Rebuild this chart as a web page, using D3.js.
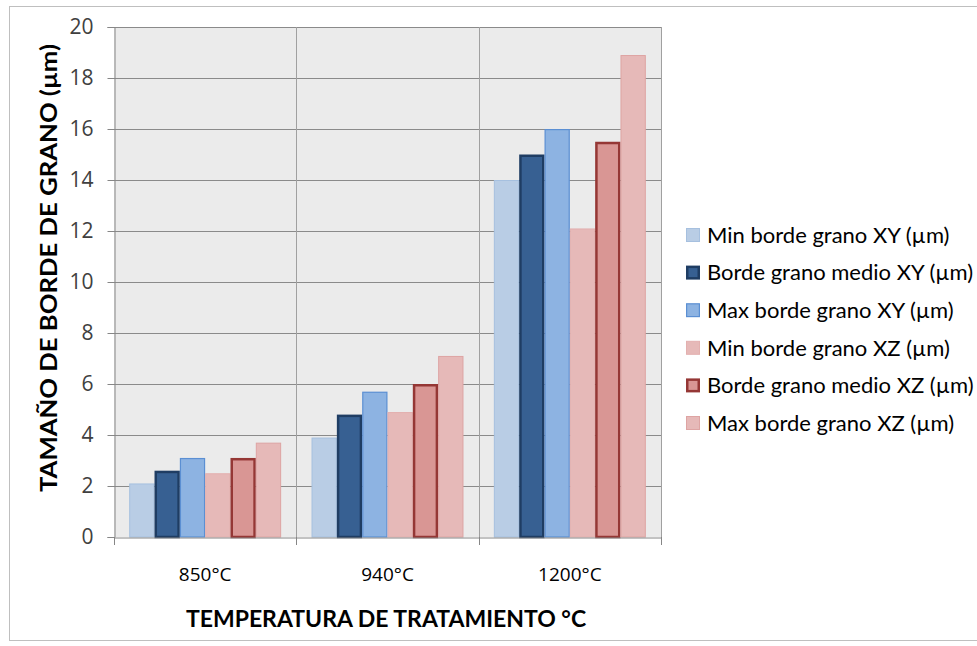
<!DOCTYPE html>
<html>
<head>
<meta charset="utf-8">
<script src="https://cdn.jsdelivr.net/npm/d3@7"></script>
<style>
  body { margin: 0; background: #fff; }
  svg { display: block; font-family: Lato, "Open Sans", sans-serif; }
</style>
</head>
<body>
<svg width="977" height="646"></svg>
<script>
// data *************************************************************
var categories = ['850°C', '940°C', '1200°C'];
var seriesNames = [
    'Min borde grano XY (µm)',
    'Borde grano medio XY (µm)',
    'Max borde grano XY (µm)',
    'Min borde grano XZ (µm)',
    'Borde grano medio XZ (µm)',
    'Max borde grano XZ (µm)'
];
var minXY = [2.1, 3.9, 14.0];
var medioXY = [2.6, 4.8, 15.0];
var maxXY = [3.1, 5.7, 16.0];
var minXZ = [2.5, 4.9, 12.1];
var medioXZ = [3.1, 6.0, 15.5];
var maxXZ = [3.7, 7.1, 18.9];
var yTicks = [0, 2, 4, 6, 8, 10, 12, 14, 16, 18, 20];

var seriesValues = [minXY, medioXY, maxXY, minXZ, medioXZ, maxXZ];
var fills = ['#b9cde5', '#376092', '#8db3e2', '#e6b9b8', '#d99694', '#e6b9b8'];
var strokes = ['#a6c0df', '#1f3d63', '#5b8fd3', '#e3b0af', '#953735', '#dea4a3'];
var strokeW = [1, 2.5, 1.2, 1, 2.5, 1];

var svg = d3.select('svg');
var margin = { left: 114, right: 661, top: 27, bottom: 537 };

// chart frame
svg.append('rect')
    .attr('x', 9.5).attr('y', 6.5)
    .attr('width', 977).attr('height', 634)
    .attr('fill', '#fff').attr('stroke', '#bfbfbf');

var x = d3.scaleBand()
    .domain(categories)
    .range([margin.left, margin.right]);

var xInner = d3.scaleBand()
    .domain(d3.range(seriesNames.length))
    .range([0, x.bandwidth()])
    .paddingOuter(0.6);

var y = d3.scaleLinear()
    .domain([0, 20])
    .range([margin.bottom, margin.top]);

// plot background
svg.append('rect')
    .attr('x', margin.left).attr('y', margin.top)
    .attr('width', margin.right - margin.left)
    .attr('height', margin.bottom - margin.top)
    .attr('fill', '#ebebeb');

// gridlines
svg.append('g')
    .selectAll('line')
    .data(yTicks.slice(1))
    .enter().append('line')
    .attr('x1', margin.left).attr('x2', margin.right)
    .attr('y1', d => Math.round(y(d)) + 0.5).attr('y2', d => Math.round(y(d)) + 0.5)
    .attr('stroke', '#8a8a8a').attr('stroke-width', 1);

svg.append('g')
    .selectAll('line')
    .data(categories)
    .enter().append('line')
    .attr('x1', d => Math.round(x(d) + x.bandwidth()) + 0.5)
    .attr('x2', d => Math.round(x(d) + x.bandwidth()) + 0.5)
    .attr('y1', margin.top).attr('y2', margin.bottom)
    .attr('stroke', '#a0a0a0').attr('stroke-width', 1);

// bars
var rows = [];
categories.forEach((c, ci) => {
    seriesValues.forEach((vals, si) => rows.push({ c, si, v: vals[ci] }));
});

svg.append('g')
    .selectAll('rect')
    .data(rows)
    .enter().append('rect')
    .attr('x', d => x(d.c) + xInner(d.si) + strokeW[d.si] / 2)
    .attr('width', d => xInner.bandwidth() - strokeW[d.si])
    .attr('y', d => y(d.v) + strokeW[d.si] / 2)
    .attr('height', d => y(0) - y(d.v) - strokeW[d.si] / 2)
    .attr('fill', d => fills[d.si])
    .attr('stroke', d => strokes[d.si])
    .attr('stroke-width', d => strokeW[d.si]);

// y axis
var yAxis = svg.append('g')
    .attr('transform', `translate(${margin.left + 0.5},0)`)
    .call(d3.axisLeft(y).tickValues(yTicks).tickSize(7).tickPadding(14));
yAxis.select('.domain').attr('stroke', '#868686');
yAxis.selectAll('.tick line').attr('stroke', '#868686');
yAxis.selectAll('.tick text')
    .attr('font-size', 21).attr('fill', '#404040')
    .attr('font-family', '"Open Sans", Lato, sans-serif');

// x axis
var xAxis = svg.append('g')
    .attr('transform', `translate(0,${margin.bottom + 0.5})`)
    .call(d3.axisBottom(x).tickSize(0).tickPadding(30));
xAxis.select('.domain').attr('stroke', '#868686');
xAxis.selectAll('.tick text')
    .attr('font-size', 19).attr('fill', '#000')
    .attr('font-family', '"Open Sans", Lato, sans-serif');
svg.append('g')
    .selectAll('line')
    .data([margin.left].concat(categories.map(c => x(c) + x.bandwidth())))
    .enter().append('line')
    .attr('x1', d => Math.round(d) + 0.5).attr('x2', d => Math.round(d) + 0.5)
    .attr('y1', margin.bottom).attr('y2', margin.bottom + 8)
    .attr('stroke', '#868686');

// axis titles
svg.append('text')
    .attr('transform', 'translate(57,268) rotate(-90)')
    .attr('text-anchor', 'middle')
    .attr('font-size', 22).attr('font-weight', 'bold')
    .attr('textLength', 448).attr('lengthAdjust', 'spacingAndGlyphs')
    .text('TAMAÑO DE BORDE DE GRANO (µm)');

svg.append('text')
    .attr('x', 386)
    .attr('y', 627)
    .attr('text-anchor', 'middle')
    .attr('font-size', 23).attr('font-weight', 'bold')
    .text('TEMPERATURA DE TRATAMIENTO °C');

// legend
var legend = svg.append('g')
    .selectAll('g')
    .data(seriesNames)
    .enter().append('g')
    .attr('transform', (d, i) => `translate(686,${235 + i * 37.6})`);

legend.append('rect')
    .attr('x', (d, i) => strokeW[i] / 2)
    .attr('y', (d, i) => -7 + strokeW[i] / 2)
    .attr('width', (d, i) => 14 - strokeW[i])
    .attr('height', (d, i) => 14 - strokeW[i])
    .attr('fill', (d, i) => fills[i])
    .attr('stroke', (d, i) => strokes[i])
    .attr('stroke-width', (d, i) => strokeW[i]);

legend.append('text')
    .attr('x', 21)
    .attr('dy', '0.35em')
    .attr('font-size', 22)
    .attr('fill', '#000')
    .text(d => d);
</script>
</body>
</html>
